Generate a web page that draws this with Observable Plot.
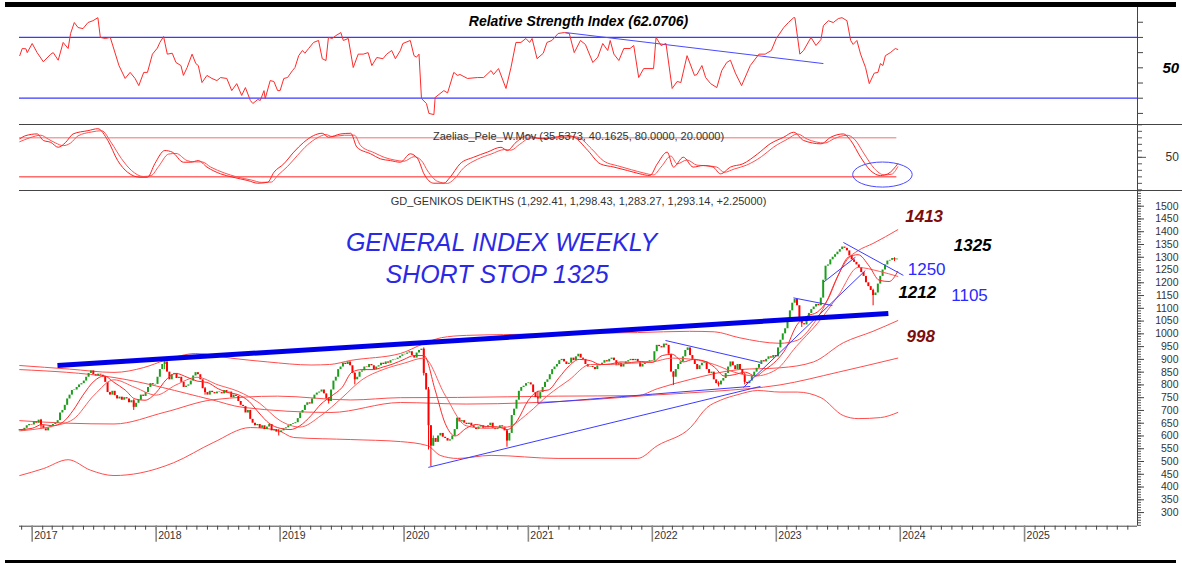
<!DOCTYPE html>
<html><head><meta charset="utf-8">
<script src="https://cdn.jsdelivr.net/npm/d3@7"></script>
<script src="https://cdn.jsdelivr.net/npm/@observablehq/plot@0.6"></script>
<style>
body{margin:0;background:#fff;}
#wrap{position:relative;width:1182px;height:563px;overflow:hidden;background:#fff;font-family:"Liberation Sans",Arial,sans-serif;}
.bar{position:absolute;background:#000;}
.sep{position:absolute;background:#444;height:1px;}
.panel{position:absolute;left:0;}
</style></head><body>
<div id="wrap">
 <div id="p1" class="panel" style="top:7px"></div>
 <div id="p2" class="panel" style="top:124px"></div>
 <div id="p3" class="panel" style="top:190px"></div>
 <div class="sep" style="left:19px;top:124px;width:1163px"></div>
 <div class="sep" style="left:19px;top:190px;width:1163px"></div>
 <div class="bar" style="left:5px;top:2px;width:1171px;height:5px"></div>
 <div class="bar" style="left:5px;top:560px;width:1171px;height:4px"></div>
</div>
<script>
// ---------------- DATA ----------------
const firstWeek = "2016-11-25";
const firstOpen = 620;
const closes = [
625,
618,630,640,645,643, 655,650,662,640, 628,620,632,640, 645,650,660,690,700, 720,745,760,778, 780,790,800,805,
815,830,845,855,840, 835,842,838,832, 810,770,760,775, 758,745,752,740,750, 745,730,738,712, 728,740,760,755, 770,790,805,800,802,
830,860,880,890, 850,820,840,845, 825,830,810,790,795, 800,815,835,848, 840,820,785,770, 760,775,770,765,772,
770,765,778,768, 772,750,760,755,735, 720,715,690,700, 665,650,640,645, 630,640,625,635,645, 620,625,615,613,
620,628,632,640, 645,648,652,668, 690,700,720,730,725, 745,760,768,772, 780,765,745,735,780, 815,830,860,870,
885,880,890,875, 845,820,830,850,855, 870,868,880,875, 860,870,875,885, 880,890,885,895,898, 900,905,912,918,
920,925,930,915,905, 925,935,940,845, 780,640,560,590, 575,600,610,595, 590,580,585,600,625, 670,655,660,650,
645,650,640,632,625, 635,640,630,632, 640,650,630,625, 630,640,635,620,580, 610,680,705,740, 775,790,795,805,
808,800,770,750,745, 770,790,810,820, 840,860,870,880, 895,900,890,880,885, 905,895,910,920, 905,900,880,870,
872,868,860,875,880, 885,895,890,900, 905,895,875,885, 870,880,890,895,900, 895,900,890,870, 880,885,890,895,893,
930,955,950,945, 960,955,920,850, 830,860,880,890, 910,935,945,915,900, 880,860,875,885, 890,860,845,850,
820,805,800,815,825, 845,870,890,875, 860,880,860,840,810, 805,815,835,850, 865,880,895,890, 900,910,905,915,910,
945,975,1000,1020, 1060,1090,1120,1135, 1110,1050,1040,1035,1060, 1080,1095,1105,1115, 1110,1140,1210,1265,
1270,1290,1300,1310,1320, 1330,1340,1335,1325, 1305,1290,1280,1270, 1260,1240,1225,1200,1185, 1170,1150,1160,1195,
1225,1250,1270,1285, 1288,1295,1290,1293
];
// Long shadows of the notable weeks: [week ending, low, high]
const wicks = [["2017-01-27",625,665],["2017-10-27",700,742],["2018-01-26",860,895],["2018-05-25",760,790],["2018-12-28",600,625],["2019-05-24",725,750],["2019-08-09",800,848],["2020-02-28",835,945],["2020-03-13",545,790],["2020-03-20",480,640],["2020-03-27",560,600],["2020-10-30",556,625],["2021-01-29",728,775],["2022-03-04",798,852],["2022-07-15",792,812],["2022-09-30",800,845],["2023-03-17",1025,1060],["2023-10-13",1110,1175],["2023-12-15",1283,1298]];
// Red indicator lines of the price panel: [decimal year, price]
const bandUpper = [[2016.90,876],[2017.30,862],[2017.66,849],[2017.90,868],[2018.07,896],[2018.32,923],[2018.60,905],[2018.90,890],[2019.25,878],[2019.40,880],[2019.57,896],[2019.97,923],[2020.15,960],[2020.30,985],[2020.50,994],[2020.80,997],[2021.24,1001],[2021.88,1005],[2022.30,1010],[2022.50,1008],[2022.70,985],[2023.03,963],[2023.17,975],[2023.30,1040],[2023.40,1120],[2023.48,1210],[2023.57,1290],[2023.66,1326],[2023.78,1354],[2023.98,1408]];
const bandMiddle = [[2016.90,660],[2017.29,650],[2017.66,647],[2018.07,693],[2018.46,742],[2018.98,756],[2019.57,741],[2019.97,750],[2020.43,751],[2021.24,756],[2021.88,758],[2022.04,785],[2022.31,822],[2022.70,860],[2023.03,867],[2023.30,890],[2023.54,965],[2023.78,1010],[2023.98,1052]];
const bandLower = [[2016.90,445],[2017.09,472],[2017.29,507],[2017.47,466],[2017.66,445],[2017.87,455],[2018.14,495],[2018.46,574],[2018.76,633],[2018.98,622],[2019.11,594],[2019.57,586],[2019.97,578],[2020.19,562],[2020.29,524],[2020.43,512],[2020.70,524],[2021.24,512],[2021.88,512],[2022.04,562],[2022.31,634],[2022.44,711],[2022.55,740],[2022.69,762],[2022.85,778],[2023.03,772],[2023.17,772],[2023.36,750],[2023.54,680],[2023.66,668],[2023.84,672],[2023.98,692]];
const maLong = [[2016.90,860],[2017.66,829],[2018.44,743],[2018.70,712],[2019.41,692],[2019.97,731],[2020.50,725],[2021.00,730],[2021.50,742],[2022.00,760],[2022.50,775],[2023.03,800],[2023.50,850],[2023.98,905]];
const maFast = [[2016.90,625],[2017.00,630],[2017.08,645],[2017.16,640],[2017.25,655],[2017.33,700],[2017.41,760],[2017.50,815],[2017.58,835],[2017.66,810],[2017.75,780],[2017.83,745],[2017.91,740],[2018.00,770],[2018.08,820],[2018.16,845],[2018.25,830],[2018.33,815],[2018.41,810],[2018.50,785],[2018.58,770],[2018.66,762],[2018.75,735],[2018.83,690],[2018.91,650],[2019.00,630],[2019.08,625],[2019.16,640],[2019.25,680],[2019.33,725],[2019.41,755],[2019.50,790],[2019.58,850],[2019.66,860],[2019.75,860],[2019.83,870],[2019.91,882],[2020.00,900],[2020.08,915],[2020.16,915],[2020.25,780],[2020.33,650],[2020.41,600],[2020.50,630],[2020.58,645],[2020.66,637],[2020.75,636],[2020.83,625],[2020.91,660],[2021.00,740],[2021.08,775],[2021.16,780],[2021.25,830],[2021.33,875],[2021.41,900],[2021.50,895],[2021.58,880],[2021.66,882],[2021.75,890],[2021.83,888],[2021.91,892],[2022.00,888],[2022.08,915],[2022.16,920],[2022.25,890],[2022.33,900],[2022.41,895],[2022.50,870],[2022.58,835],[2022.66,840],[2022.75,850],[2022.83,835],[2022.91,860],[2023.00,895],[2023.08,945],[2023.16,1030],[2023.25,1070],[2023.33,1085],[2023.41,1130],[2023.50,1230],[2023.58,1300],[2023.66,1310],[2023.75,1265],[2023.83,1210],[2023.91,1205],[2023.98,1245]];
const maSlow = [[2016.90,620],[2017.00,625],[2017.16,638],[2017.33,665],[2017.50,760],[2017.66,820],[2017.83,790],[2018.00,760],[2018.16,800],[2018.33,830],[2018.50,800],[2018.66,775],[2018.83,730],[2019.00,660],[2019.16,635],[2019.33,680],[2019.50,750],[2019.66,820],[2019.83,860],[2020.00,885],[2020.16,905],[2020.33,760],[2020.50,640],[2020.66,630],[2020.83,635],[2021.00,690],[2021.16,760],[2021.33,820],[2021.50,880],[2021.66,880],[2021.83,885],[2022.00,890],[2022.16,905],[2022.33,900],[2022.50,880],[2022.66,850],[2022.83,835],[2023.00,860],[2023.16,950],[2023.33,1040],[2023.50,1150],[2023.66,1260],[2023.83,1245],[2023.98,1225]];
// Blue trendlines: [year1, price1, year2, price2]
const mainTrend = [[2017.204,876,2023.904,1080]];
const trendLines = [[2020.195,477,2022.872,794],[2021.074,728,2022.79,794],[2022.106,974,2022.872,888],[2022.735,790,2023.718,1248],[2023.38,1202,2023.638,1300],[2023.541,1358,2024.025,1229],[2023.138,1141,2023.452,1111]];
// RSI: [year, value]
const rsi = [[2016.90,58],[2016.92,62.7],[2016.95,62.5],[2016.96,60],[2017.00,66],[2017.04,60],[2017.09,54],[2017.15,59],[2017.17,60],[2017.21,55],[2017.25,66.7],[2017.29,62.7],[2017.31,72.6],[2017.34,79.8],[2017.37,76.5],[2017.41,75.8],[2017.45,79.8],[2017.49,81],[2017.53,83],[2017.55,70],[2017.59,69.3],[2017.63,70],[2017.70,51.5],[2017.75,43],[2017.79,47],[2017.83,43],[2017.86,38.3],[2017.90,47],[2017.93,47],[2017.97,59],[2018.01,63],[2018.03,66.7],[2018.06,70.6],[2018.09,59],[2018.13,59.6],[2018.16,53.5],[2018.20,51.5],[2018.22,45],[2018.25,50.2],[2018.29,59],[2018.32,52.8],[2018.34,51.5],[2018.37,40.3],[2018.41,45],[2018.45,43],[2018.49,41.6],[2018.52,43.6],[2018.57,43],[2018.61,35],[2018.65,39.6],[2018.69,31.8],[2018.72,37],[2018.76,28.5],[2018.78,26.5],[2018.82,29.2],[2018.84,28.5],[2018.87,35],[2018.88,29.8],[2018.92,41.6],[2018.95,41],[2018.98,35],[2019.00,35],[2019.03,43],[2019.06,43.6],[2019.10,48.2],[2019.12,50.2],[2019.15,58],[2019.18,61.4],[2019.20,59.6],[2019.23,62.7],[2019.27,66.7],[2019.31,68],[2019.34,56],[2019.37,54.8],[2019.39,70],[2019.42,69.3],[2019.45,71.2],[2019.49,73.2],[2019.51,68],[2019.55,69.3],[2019.59,50.2],[2019.63,59],[2019.67,59],[2019.71,60],[2019.74,51.5],[2019.78,56.8],[2019.83,56],[2019.86,59],[2019.90,61.4],[2019.93,56],[2019.97,61.4],[2019.99,66],[2020.05,68],[2020.08,58],[2020.10,57],[2020.12,59],[2020.14,29.8],[2020.18,26.5],[2020.20,20],[2020.24,19.2],[2020.25,30.5],[2020.32,35],[2020.35,33.5],[2020.40,47],[2020.43,45],[2020.45,45.6],[2020.51,43],[2020.59,43.6],[2020.64,43.6],[2020.70,48.2],[2020.72,45.6],[2020.76,49.5],[2020.82,36.4],[2020.86,50.2],[2020.90,66.7],[2020.94,66.7],[2020.98,69.3],[2021.01,66.7],[2021.03,69.3],[2021.07,56],[2021.12,59.6],[2021.15,66.7],[2021.19,68],[2021.24,72.6],[2021.29,73.2],[2021.33,72.6],[2021.37,60],[2021.42,68],[2021.46,65.4],[2021.52,53.5],[2021.56,57],[2021.60,66],[2021.64,61.4],[2021.66,68],[2021.69,59],[2021.73,54.8],[2021.77,62.7],[2021.82,62.7],[2021.85,64.7],[2021.89,43.6],[2021.93,49.5],[2022.01,49.5],[2022.03,70],[2022.07,64.7],[2022.11,66],[2022.16,36.4],[2022.20,41],[2022.23,40.3],[2022.28,58],[2022.34,45],[2022.36,45.6],[2022.40,51.5],[2022.43,43.6],[2022.47,39.6],[2022.52,37],[2022.56,48.2],[2022.60,53.5],[2022.63,55],[2022.67,46.5],[2022.72,38.3],[2022.79,51.5],[2022.86,59],[2022.91,59],[2022.96,61.4],[2023.00,69.3],[2023.06,76.5],[2023.10,80],[2023.14,83],[2023.15,83],[2023.19,59],[2023.22,61.4],[2023.28,70],[2023.32,64.7],[2023.36,68.6],[2023.38,77.8],[2023.42,81],[2023.46,79.8],[2023.50,82.4],[2023.53,83],[2023.57,81],[2023.60,68],[2023.62,65.4],[2023.65,68],[2023.68,59],[2023.72,50.2],[2023.75,39.6],[2023.79,46.5],[2023.82,47],[2023.84,52.8],[2023.86,51.5],[2023.88,58],[2023.92,60],[2023.96,62.7],[2023.98,62.07]];
const rsiLevels = [30, 70];
const rsiTrend = [[2021.30,73.2,2023.38,52.8]];
const rsiTicks = [20,30,40,50,60,70,80];
const rsiLabel = [50];
// Zaelias oscillator lines: [year, value]
const zFast = [[2016.90,78.5],[2016.95,83.5],[2017.04,86],[2017.09,76],[2017.15,73],[2017.21,65.5],[2017.27,73],[2017.33,86],[2017.45,91],[2017.53,94],[2017.61,76],[2017.69,45],[2017.77,27],[2017.87,19.4],[2017.93,19.4],[2017.99,40.5],[2018.07,60.5],[2018.13,58],[2018.22,42.5],[2018.28,42.5],[2018.34,45],[2018.41,35],[2018.52,24.6],[2018.62,19.4],[2018.74,14.3],[2018.82,10.2],[2018.90,11.7],[2018.95,27],[2019.03,40],[2019.11,58],[2019.19,73],[2019.27,83.5],[2019.34,87],[2019.39,81],[2019.49,86],[2019.57,87],[2019.62,65.5],[2019.73,55.4],[2019.81,47.7],[2019.89,45],[2019.97,42.5],[2020.05,55.4],[2020.11,47.7],[2020.16,24.6],[2020.24,10.2],[2020.32,10.2],[2020.37,19.4],[2020.45,40],[2020.56,50.2],[2020.67,58],[2020.78,65.5],[2020.83,60.5],[2020.90,73],[2020.99,83.5],[2021.10,78.5],[2021.21,81],[2021.32,83.5],[2021.37,81],[2021.48,60.5],[2021.58,40],[2021.69,35],[2021.80,29.7],[2021.90,24.6],[2021.98,22],[2022.04,40],[2022.12,58],[2022.17,35],[2022.25,50.2],[2022.33,35],[2022.41,37.4],[2022.49,35],[2022.55,24.6],[2022.63,35],[2022.73,40],[2022.85,55.4],[2022.95,70.8],[2023.06,81],[2023.14,88.6],[2023.22,76],[2023.36,70.8],[2023.44,81],[2023.54,86],[2023.60,76],[2023.68,50.2],[2023.76,29.7],[2023.84,22],[2023.90,24.6],[2023.98,40.16]];
const zSlow = [[2016.90,74],[2016.98,80],[2017.07,84],[2017.13,78],[2017.19,72],[2017.25,68],[2017.31,72],[2017.37,83],[2017.48,89],[2017.56,91],[2017.64,72],[2017.72,48],[2017.80,30],[2017.90,20.5],[2017.96,22],[2018.02,36],[2018.10,55],[2018.16,56],[2018.25,45],[2018.31,43],[2018.37,43],[2018.44,35],[2018.55,26],[2018.65,20],[2018.77,15],[2018.85,11.5],[2018.93,12],[2018.98,22],[2019.06,36],[2019.14,53],[2019.22,69],[2019.30,80],[2019.37,85],[2019.42,82],[2019.52,84],[2019.60,84],[2019.65,68],[2019.76,57],[2019.84,50],[2019.92,46],[2020.00,44],[2020.08,51],[2020.14,45],[2020.19,29],[2020.27,13],[2020.35,10],[2020.40,16],[2020.48,34],[2020.59,47],[2020.70,55],[2020.81,62],[2020.86,61],[2020.93,70],[2021.02,80],[2021.13,79],[2021.24,80],[2021.35,82],[2021.40,81],[2021.51,63],[2021.61,44],[2021.72,37],[2021.83,31],[2021.93,26],[2022.01,23],[2022.07,35],[2022.15,52],[2022.20,40],[2022.28,46],[2022.36,38],[2022.44,37],[2022.52,35],[2022.58,27],[2022.66,32],[2022.76,38],[2022.88,51],[2022.98,66],[2023.09,78],[2023.17,86],[2023.25,78],[2023.39,72],[2023.47,79],[2023.57,84],[2023.63,78],[2023.71,55],[2023.79,33],[2023.87,23],[2023.93,24],[2023.98,35.54]];
const zLevels = [20, 80];
const zTicks = [0,10,20,30,40,50,60,70,80,90,100];
const zLabel = [50];
const circleYears = [2023.62, 2024.10];
const circleValues = [3.5, 42];
// Price axis & annotations
const priceTicks = [300,350,400,450,500,550,600,650,700,750,800,850,900,950,1000,1050,1100,1150,1200,1250,1300,1350,1400,1450,1500];
const yearLabels = [2017,2018,2019,2020,2021,2022,2023,2024,2025];
const targetText = ["1413","998"], targetYear = [2024.04, 2024.05], targetPrice = [1437, 967];
const stopText = ["1325","1212"], stopYear = [2024.43, 2023.985], stopPrice = [1326, 1142];
const levelText = ["1250","1105"], levelYear = [2024.06, 2024.41], levelPrice = [1229, 1127];
const noteText = ["GENERAL INDEX WEEKLY","SHORT STOP 1325"], noteYear = [2020.784, 2020.748], notePrice = [1326, 1201];
const titleRSI = "Relative Strength Index (62.0706)";
const titleZ = "Zaelias_Pele_W.Mov (35.5373, 40.1625, 80.0000, 20.0000)";
const titleMain = "GD_GENIKOS DEIKTHS (1,292.41, 1,298.43, 1,283.27, 1,293.14, +2.25000)";

// ---------------- HELPERS ----------------
const yd = y => { const Y = Math.floor(y); const a = Date.UTC(Y,0,1), b = Date.UTC(Y+1,0,1); return new Date(a + (y - Y) * (b - a)); };
const xDomain = [yd(2016.898), yd(2025.911)];
const FONT = '"Liberation Sans", Arial, sans-serif';
const W = 1182, ML = 19, MR = 45;
const t0 = new Date(firstWeek + "T00:00:00Z").getTime();
const candles = closes.map((c, i) => ({date: new Date(t0 + i * 7 * 864e5), open: i ? closes[i - 1] : firstOpen, close: c}));
const closeByDate = new Map(candles.map(c => [c.date.getTime(), c]));
const wickRows = wicks.map(([d, lo, hi]) => { const date = new Date(d + "T00:00:00Z"); const c = closeByDate.get(date.getTime()); return {date, lo, hi, up: c ? c.close >= c.open : false}; });
const dataStart = candles[0].date, dataEnd = candles[candles.length - 1].date;
const ptX = d => yd(d[0]), ptY = d => d[1];
const base = {width: W, marginLeft: ML, marginRight: MR, marginTop: 0,
  style: {fontFamily: FONT, background: "transparent", overflow: "visible"}};

// ---------------- RSI PANEL ----------------
const p1 = Plot.plot({...base, height: 117, marginBottom: 0,
  x: {type: "utc", domain: xDomain, axis: null},
  y: {domain: [12.7, 89.7], axis: null},
  marks: [
    Plot.ruleY(rsiLevels, {stroke: "#3a3aff", strokeWidth: 1.2}),
    Plot.link(rsiTrend, {x1: d => yd(d[0]), y1: d => d[1], x2: d => yd(d[2]), y2: d => d[3], stroke: "#4a4aff", strokeWidth: 1}),
    Plot.line(rsi, {x: ptX, y: ptY, stroke: "#ff2a2a", strokeWidth: 1}),
    Plot.ruleX([xDomain[1]], {stroke: "#444"}),
    Plot.axisY({anchor: "right", ticks: rsiTicks, tickSize: 5, tickFormat: () => "", stroke: "#444"}),
    Plot.axisY({anchor: "right", ticks: rsiLabel, tickSize: 0, tickPadding: 25, tickFormat: d => String(d), fontSize: 15, fontWeight: "bold", fontStyle: "italic", fill: "#000"}),
    Plot.text([titleRSI], {frameAnchor: "top", lineAnchor: "bottom", dy: 18, fontSize: 14, fontWeight: "bold", fontStyle: "italic", fill: "#000"})
  ]});
document.getElementById("p1").appendChild(p1);

// ---------------- ZAELIAS PANEL ----------------
const p2 = Plot.plot({...base, height: 66, marginBottom: 0,
  x: {type: "utc", domain: xDomain, axis: null},
  y: {domain: [-1, 100.5], axis: null},
  marks: [
    Plot.ruleY(zLevels, {x1: () => dataStart, x2: () => dataEnd, stroke: (d) => d > 50 ? "#f27070" : "#ff2020", strokeWidth: 1}),
    Plot.line(zSlow, {x: ptX, y: ptY, stroke: "#ff5050", strokeWidth: 1, curve: "monotone-x"}),
    Plot.line(zFast, {x: ptX, y: ptY, stroke: "#ff2020", strokeWidth: 1, curve: "monotone-x"}),
    Plot.ruleX([xDomain[1]], {stroke: "#444"}),
    Plot.axisY({anchor: "right", ticks: zTicks, tickSize: 4, tickFormat: () => "", stroke: "#555"}),
    Plot.axisY({anchor: "right", ticks: zLabel, tickSize: 8, tickPadding: 20, tickFormat: d => String(d), fontSize: 12, fill: "#333", stroke: "#555"}),
    Plot.text([titleZ], {frameAnchor: "top", lineAnchor: "bottom", dy: 15, fontSize: 11, fill: "#333"})
  ]});
document.getElementById("p2").appendChild(p2);
{
  const sx = p2.scale("x"), sy = p2.scale("y");
  const xa = sx.apply(yd(circleYears[0])), xb = sx.apply(yd(circleYears[1]));
  const ya = sy.apply(circleValues[0]), yb = sy.apply(circleValues[1]);
  d3.select(p2).append("ellipse")
    .attr("cx", (xa + xb) / 2).attr("cy", (ya + yb) / 2)
    .attr("rx", Math.abs(xb - xa) / 2).attr("ry", Math.abs(ya - yb) / 2)
    .attr("fill", "none").attr("stroke", "#4a4aff").attr("stroke-width", 1);
}

// ---------------- PRICE PANEL ----------------
const yMin = 246.6, yMax = 1561.5;
const monthTicks = d3.utcMonth.range(xDomain[0], xDomain[1]);
const yearTicks = yearLabels.map(y => new Date(Date.UTC(y, 0, 1)));
const redLine = (pts, extra = {}) => Plot.line(pts, {x: ptX, y: ptY, stroke: "#ff3a3a", strokeWidth: 1, curve: "monotone-x", ...extra});
const p3 = Plot.plot({...base, height: 370, marginBottom: 34.3,
  x: {type: "utc", domain: xDomain, axis: null},
  y: {domain: [yMin, yMax], axis: null},
  marks: [
    redLine(bandUpper, {stroke: "#ff4d4d"}),
    redLine(bandMiddle, {stroke: "#ff4d4d"}),
    redLine(bandLower, {stroke: "#ff4d4d"}),
    redLine(maLong, {stroke: "#ff4d4d"}),
    Plot.ruleX(wickRows, {x: "date", y1: "lo", y2: "hi", stroke: d => d.up ? "#1c9e1c" : "#ff0000", strokeWidth: 1}),
    Plot.ruleX(candles, {x: "date", y1: "open", y2: "close", stroke: d => d.close >= d.open ? "#1c9e1c" : "#ff0000", strokeWidth: 2}),
    redLine(maSlow, {stroke: "#ff5a5a"}),
    redLine(maFast, {stroke: "#ff2a2a"}),
    Plot.link(trendLines, {x1: d => yd(d[0]), y1: d => d[1], x2: d => yd(d[2]), y2: d => d[3], stroke: "#3c3cff", strokeWidth: 1}),
    Plot.link(mainTrend, {x1: d => yd(d[0]), y1: d => d[1], x2: d => yd(d[2]), y2: d => d[3], stroke: "#0000e8", strokeWidth: 5}),
    Plot.ruleX([xDomain[1]], {stroke: "#444"}),
    Plot.ruleY([yMin], {stroke: "#444"}),
    Plot.axisY({anchor: "right", ticks: d3.range(250, 1561, 10), tickSize: 3, tickFormat: () => "", stroke: "#555"}),
    Plot.axisY({anchor: "right", ticks: priceTicks, tickSize: 6, tickFormat: () => "", stroke: "#444"}),
    Plot.axisY({anchor: "right", ticks: priceTicks, tickSize: 0, tickPadding: 41, textAnchor: "end", tickFormat: d => String(d), fontSize: 10.5, fill: "#333"}),
    Plot.axisX({ticks: monthTicks, tickSize: 4, tickFormat: () => "", stroke: "#444"}),
    Plot.axisX({ticks: yearTicks, tickSize: 16, tickFormat: () => "", stroke: "#8a8a8a", strokeWidth: 1.6}),
    Plot.axisX({ticks: yearTicks, tickSize: 0, tickPadding: 5, textAnchor: "start", dx: 2, tickFormat: d3.utcFormat("%Y"), fontSize: 10.5, fill: "#333"}),
    Plot.text([titleMain], {frameAnchor: "top", lineAnchor: "bottom", dy: 14, fontSize: 11, fill: "#333"}),
    Plot.text(noteText, {x: (d, i) => yd(noteYear[i]), y: (d, i) => notePrice[i], text: d => d, lineAnchor: "bottom", fontSize: 25, fontStyle: "italic", fill: "#2a2ae6"}),
    Plot.text(targetText, {x: (d, i) => yd(targetYear[i]), y: (d, i) => targetPrice[i], text: d => d, textAnchor: "start", lineAnchor: "bottom", fontSize: 17, fontWeight: "bold", fontStyle: "italic", fill: "#7a0e0e"}),
    Plot.text(stopText, {x: (d, i) => yd(stopYear[i]), y: (d, i) => stopPrice[i], text: d => d, textAnchor: "start", lineAnchor: "bottom", fontSize: 17, fontWeight: "bold", fontStyle: "italic", fill: "#000"}),
    Plot.text(levelText, {x: (d, i) => yd(levelYear[i]), y: (d, i) => levelPrice[i], text: d => d, textAnchor: "start", lineAnchor: "bottom", fontSize: 17, fill: "#2a2aff"})
  ]});
document.getElementById("p3").appendChild(p3);
</script>
</body></html>
